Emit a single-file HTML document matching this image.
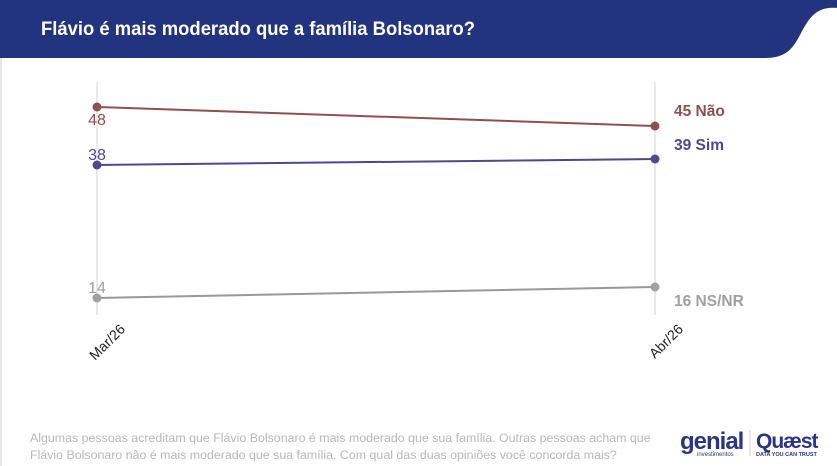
<!DOCTYPE html>
<html><head><meta charset="utf-8"><style>
body{margin:0;width:837px;height:466px;background:#fff;overflow:hidden;font-family:"Liberation Sans",sans-serif;position:relative}
.note{position:absolute;left:30px;top:430px;font-size:12.4px;line-height:17px;color:#b8b8b8}
</style></head><body>
<svg width="837" height="466" style="position:absolute;left:0;top:0">
<path d="M0 0 H837 V8 C815 6 808 20 800 35 C792 50 785 58 765 58 H0 Z" fill="#22337f"/>
<rect x="0" y="58" width="2" height="408" fill="#e6e6e6"/>
<text x="41" y="35" fill="#fff" font-size="19.5" font-weight="bold" textLength="434" lengthAdjust="spacingAndGlyphs">Flávio é mais moderado que a família Bolsonaro?</text>
<line x1="97" y1="82" x2="97" y2="315" stroke="#e3e3e3" stroke-width="1.5"/>
<line x1="655" y1="82" x2="655" y2="315" stroke="#e3e3e3" stroke-width="1.5"/>
<line x1="97" y1="107" x2="655" y2="126" stroke="#8f4f4f" stroke-width="2"/>
<line x1="97" y1="165" x2="655" y2="159" stroke="#4b4a8f" stroke-width="2"/>
<line x1="97" y1="298" x2="655" y2="287" stroke="#999" stroke-width="2"/>
<g fill="#8f4f4f"><circle cx="97" cy="107" r="4.5"/><circle cx="655" cy="126" r="4.5"/></g>
<g fill="#4b4a8f"><circle cx="97" cy="165" r="4.5"/><circle cx="655" cy="159" r="4.5"/></g>
<g fill="#a0a0a0"><circle cx="97" cy="298" r="4.5"/><circle cx="655" cy="287" r="4.5"/></g>
<g font-size="16" text-anchor="middle">
<text x="97" y="125" fill="#8f4f4f">48</text>
<text x="97" y="160" fill="#4b4a8f">38</text>
<text x="97" y="293" fill="#a0a0a0">14</text>
</g>
<g font-size="15.5" font-weight="bold">
<text x="674" y="116" fill="#8f4f4f">45 Não</text>
<text x="674" y="150" fill="#4b4a8f">39 Sim</text>
<text x="674" y="306" fill="#a0a0a0">16 NS/NR</text>
</g>
<g font-size="14" fill="#222">
<text transform="translate(126,330) rotate(-45)" text-anchor="end">Mar/26</text>
<text transform="translate(684,330) rotate(-45)" text-anchor="end">Abr/26</text>
</g>
<text x="680" y="449" font-size="24" font-weight="bold" fill="#2b3585" letter-spacing="-1">genial</text>
<text x="697" y="456" font-size="6" fill="#2b3585">investimentos</text>
<line x1="750" y1="430" x2="750" y2="456" stroke="#ccc"/>
<text x="756" y="448" font-size="21" font-weight="bold" fill="#2b3585" letter-spacing="-1">Quæst</text>
<text x="756" y="456" font-size="5.5" font-weight="bold" fill="#2b3585">DATA YOU CAN TRUST</text>
</svg>
<div class="note">Algumas pessoas acreditam que Flávio Bolsonaro é mais moderado que sua família. Outras pessoas acham que<br>Flávio Bolsonaro não é mais moderado que sua família. Com qual das duas opiniões você concorda mais?</div>
</body></html>
